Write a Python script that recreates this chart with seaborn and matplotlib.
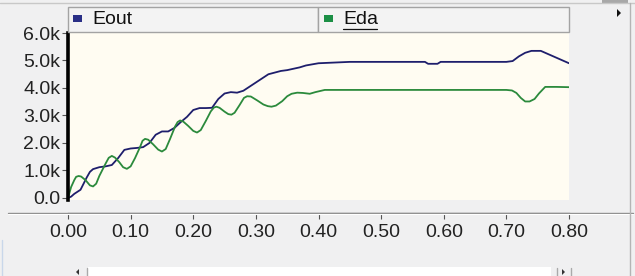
import numpy as np
import pandas as pd
import matplotlib
matplotlib.use("Agg")
import matplotlib.pyplot as plt
from matplotlib.patches import Rectangle, Polygon
from matplotlib.lines import Line2D
import seaborn as sns

# ---------------- data ----------------
series_names = ["Eout", "Eda"]

eout_x = [0.0, 0.005, 0.01, 0.02, 0.03, 0.035, 0.04, 0.05, 0.06, 0.07, 0.08, 0.09,
          0.10, 0.11, 0.12, 0.13, 0.14, 0.15, 0.16, 0.17, 0.18, 0.19, 0.20, 0.21,
          0.22, 0.23, 0.24, 0.25, 0.26, 0.27, 0.28, 0.29, 0.30, 0.31, 0.32, 0.33,
          0.34, 0.35, 0.36, 0.37, 0.38, 0.39, 0.40, 0.42, 0.45, 0.50, 0.55, 0.57,
          0.575, 0.59, 0.595, 0.62, 0.66, 0.70, 0.71, 0.72, 0.73, 0.74, 0.755,
          0.77, 0.78, 0.79, 0.80]
eout_y = [0, 50, 150, 300, 750, 950, 1050, 1120, 1150, 1200, 1450, 1750,
          1800, 1820, 1850, 2000, 2300, 2420, 2420, 2550, 2760, 2950, 3200, 3270,
          3270, 3280, 3600, 3800, 3850, 3830, 3900, 4050, 4200, 4350, 4500, 4560,
          4620, 4650, 4700, 4750, 4820, 4860, 4900, 4920, 4950, 4950, 4950, 4950,
          4880, 4880, 4950, 4950, 4950, 4950, 4980, 5150, 5280, 5350, 5350,
          5200, 5100, 5000, 4900]

eda_x = [0.0, 0.005, 0.01, 0.013, 0.017, 0.021, 0.028, 0.035, 0.04, 0.045, 0.05,
         0.06, 0.065, 0.07, 0.075, 0.082, 0.088, 0.094, 0.1, 0.107, 0.115, 0.119,
         0.123, 0.128, 0.136, 0.144, 0.15, 0.156, 0.163, 0.171, 0.175, 0.179,
         0.184, 0.192, 0.2, 0.206, 0.212, 0.22, 0.228, 0.233, 0.237, 0.242,
         0.25, 0.256, 0.261, 0.266, 0.274, 0.281, 0.286, 0.292, 0.302, 0.312,
         0.319, 0.325, 0.332, 0.342, 0.35, 0.357, 0.366, 0.375, 0.386, 0.395,
         0.41, 0.45, 0.50, 0.60, 0.70, 0.709, 0.716, 0.723, 0.73, 0.737, 0.745,
         0.752, 0.762, 0.78, 0.80]
eda_y = [0, 400, 650, 770, 800, 780, 650, 460, 420, 520, 800,
         1250, 1460, 1530, 1470, 1300, 1120, 1060, 1150, 1450, 1850, 2080,
         2150, 2120, 1950, 1760, 1690, 1780, 2150, 2600, 2760, 2820,
         2780, 2620, 2440, 2380, 2470, 2800, 3150, 3290, 3320, 3280,
         3140, 3050, 3030, 3100, 3380, 3640, 3700, 3690, 3550, 3400,
         3340, 3320, 3360, 3520, 3700, 3790, 3830, 3820, 3790, 3850,
         3930, 3930, 3930, 3930, 3930, 3910, 3820, 3640, 3510, 3510, 3600,
         3800, 4040, 4040, 4030]

x_ticks = [0.0, 0.1, 0.2, 0.3, 0.4, 0.5, 0.6, 0.7, 0.8]
x_tick_labels = ["0.00", "0.10", "0.20", "0.30", "0.40", "0.50", "0.60", "0.70", "0.80"]
y_ticks = [0, 1000, 2000, 3000, 4000, 5000, 6000]
y_tick_labels = ["0.0", "1.0k", "2.0k", "3.0k", "4.0k", "5.0k", "6.0k"]

colors = {"Eout": "#1e1e6c", "Eda": "#2b8a3c"}
marker_colors = {"Eout": "#2a2f86", "Eda": "#1b8f45"}

df = pd.concat([
    pd.DataFrame({"x": eout_x, "y": eout_y, "series": "Eout"}),
    pd.DataFrame({"x": eda_x, "y": eda_y, "series": "Eda"}),
], ignore_index=True)

# ---------------- style ----------------
sns.set_theme(style="white")
plt.rcParams["font.family"] = ["Liberation Sans", "DejaVu Sans"]

W, H = 635, 276
BG = "#f0f0f1"
fig = plt.figure(figsize=(W / 100, H / 100), dpi=100, facecolor=BG)

def fx(px):
    return px / W

def fy(py):
    return 1 - py / H

L, R, T, B = 68, 569, 33, 200
ax = fig.add_axes([fx(L), fy(B), (R - L) / W, (B - T) / H])
ax.set_facecolor("#fffcf2")

sns.lineplot(data=df, x="x", y="y", hue="series", palette=colors, ax=ax,
             linewidth=1.3, legend=False, sort=False)

ax.set_xlim(0, 0.8)
ax.set_ylim(-73, 6000)
ax.set_xlabel("")
ax.set_ylabel("")

for s in ["top", "right"]:
    ax.spines[s].set_visible(False)
ax.spines["left"].set_color("black")
ax.spines["left"].set_linewidth(2.6)
ax.spines["bottom"].set_position(("outward", 9.4))
ax.spines["bottom"].set_color("#8c8c8c")
ax.spines["bottom"].set_linewidth(1.0)

ax.set_yticks(y_ticks)
ax.set_yticklabels(y_tick_labels)
ax.set_xticks(x_ticks)
ax.set_xticklabels(x_tick_labels)
ax.tick_params(axis="y", left=True, length=4.5, width=0.8, color="#555555",
               pad=1, labelsize=14, labelcolor="#222222")
ax.tick_params(axis="x", bottom=True, length=4, width=0.8, color="#555555",
               pad=4, labelsize=14, labelcolor="#222222")

# full-width separator line under the plot (groove)
fig.add_artist(Line2D([fx(8), fx(633)], [fy(213), fy(213)], color="#8c8c8c", lw=1.0))
fig.add_artist(Line2D([fx(8), fx(633)], [fy(214.3), fy(214.3)], color="#ffffff", lw=0.8))

# ---------------- legend strip ----------------
cells = [("Eout", 68, 318, 73, 92), ("Eda", 318, 569, 324, 343)]
for name, x0, x1, mx, tx in cells:
    fig.add_artist(Rectangle((fx(x0), fy(32)), (x1 - x0) / W, 25 / H,
                             transform=fig.transFigure, facecolor="#f3f3f3",
                             edgecolor="#a3a3a3", lw=1.0))
    fig.add_artist(Rectangle((fx(mx), fy(22)), 9 / W, 7 / H,
                             transform=fig.transFigure,
                             facecolor=marker_colors[name], edgecolor="none"))
    fig.text(fx(tx), fy(19.5), name, fontsize=14, color="#111111",
             ha="left", va="center")
# underline of "Eda"
fig.add_artist(Line2D([fx(343), fx(377)], [fy(28.5), fy(28.5)], color="#111111", lw=0.9))

# ---------------- window chrome ----------------
fig.add_artist(Line2D([0, 1], [fy(3), fy(3)], color="#c8c8c8", lw=1.0))
fig.add_artist(Rectangle((fx(602), fy(3)), 26 / W, 3 / H, transform=fig.transFigure,
                         facecolor="#a8a8a8", edgecolor="none"))
fig.add_artist(Line2D([fx(630), fx(630)], [fy(3), fy(276)], color="#b4b4b4", lw=1.0))
fig.add_artist(Line2D([fx(2), fx(2)], [fy(240), fy(276)], color="#c9d7ea", lw=1.0))
fig.add_artist(Polygon([[fx(617), fy(9)], [fx(617), fy(17)], [fx(621), fy(13)]],
                       closed=True, transform=fig.transFigure,
                       facecolor="#111111", edgecolor="none"))

# bottom scrollbar
fig.add_artist(Rectangle((fx(88), fy(276)), (551 - 88) / W, 9 / H,
                         transform=fig.transFigure, facecolor="#ffffff", edgecolor="none"))
fig.add_artist(Line2D([fx(87), fx(87)], [fy(268), fy(276)], color="#aaaaaa", lw=1.0))
fig.add_artist(Line2D([fx(557), fx(557)], [fy(268), fy(276)], color="#aaaaaa", lw=1.0))
fig.add_artist(Line2D([fx(571), fx(571)], [fy(268), fy(276)], color="#aaaaaa", lw=1.0))
fig.add_artist(Polygon([[fx(76), fy(272)], [fx(79), fy(269)], [fx(79), fy(275)]],
                       closed=True, transform=fig.transFigure,
                       facecolor="#333333", edgecolor="none"))
fig.add_artist(Polygon([[fx(565), fy(272)], [fx(562), fy(269)], [fx(562), fy(275)]],
                       closed=True, transform=fig.transFigure,
                       facecolor="#333333", edgecolor="none"))

fig.savefig("out.png", dpi=100, facecolor=BG)
